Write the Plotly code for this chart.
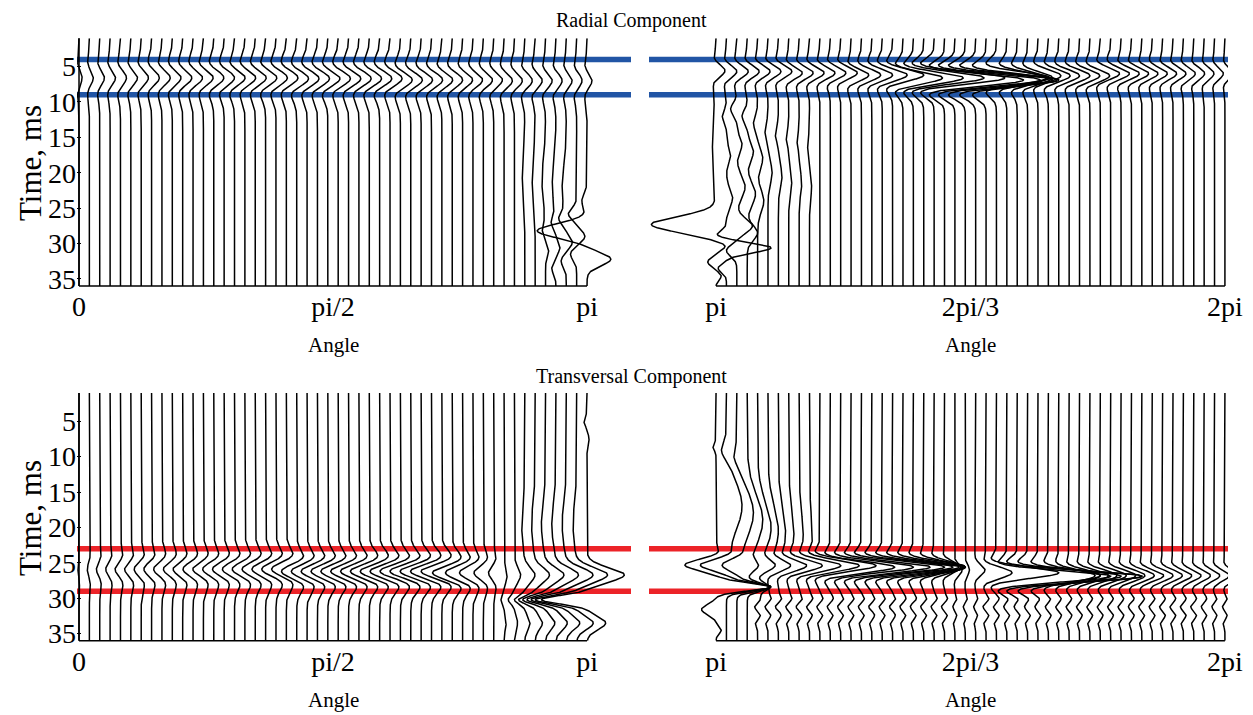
import numpy as np
import plotly.graph_objects as go

PAGE_W, PAGE_H = 1253, 715
OFF = 8                      # default page body margin
W, H = PAGE_W - OFF, PAGE_H - OFF
PI = np.pi

# ---------------- data ----------------
n_traces = 50
time_min, time_max = 1.0, 36.0
time_ticks = [5, 10, 15, 20, 25, 30, 35]
left_tick_vals = [0, PI / 2, PI]
left_tick_text = ["0", "pi/2", "pi"]
right_tick_vals = [PI, 1.5 * PI, 2 * PI]
right_tick_text = ["pi", "2pi/3", "2pi"]
radial_marker_times = [4, 9]
transversal_marker_times = [23, 29]

# main event amplitude per trace (in trace-spacing units) and apex time (ms)
radial_left_amp = [0.30, 0.38, 0.45, 0.52, 0.58, 0.64, 0.70, 0.75, 0.80, 0.84,
                   0.88, 0.91, 0.94, 0.97, 1.00, 1.02, 1.04, 1.06, 1.08, 1.10,
                   1.12, 1.14, 1.15, 1.16, 1.17, 1.18, 1.18, 1.18, 1.18, 1.17,
                   1.16, 1.14, 1.12, 1.10, 1.07, 1.04, 1.00, 0.96, 0.92, 0.88,
                   0.84, 0.80, 0.76, 0.72, 0.68, 0.64, 0.60, 0.56, 0.52, 0.48]
radial_left_time = [6.6] * 21 + [6.7] * 10 + [6.9] * 10 + [7.0] * 9

radial_right_amp = [0.9, 1.0, 1.1, 1.15, 1.2, 1.25, 1.3, 1.3, 1.35, 1.4,
                    1.45, 1.5, 1.6, 1.7, 1.85, 2.0, 2.4, 3.0, 3.8, 4.8,
                    5.8, 6.8, 7.6, 8.2, 8.4, 8.0, 6.8, 5.2, 3.8, 2.9,
                    2.4, 2.2, 2.1, 2.0, 2.0, 1.95, 1.9, 1.85, 1.8, 1.75,
                    1.65, 1.55, 1.45, 1.35, 1.25, 1.15, 1.05, 0.95, 0.85, 0.75]
radial_right_time = ([5.6] + [5.7] * 6 + [5.9] * 6 + [6.2] * 5 + [6.6] * 4 +
                     [6.9] * 5 + [6.6] * 4 + [6.3] * 6 + [6.0] * 13)

trans_left_amp = [-0.10, -0.20, -0.32, -0.42, -0.52, -0.60, -0.68, -0.74, -0.80, -0.86,
                  -0.92, -0.97, -1.02, -1.07, -1.12, -1.17, -1.22, -1.27, -1.32, -1.37,
                  -1.42, -1.47, -1.52, -1.57, -1.62, -1.67, -1.72, -1.77, -1.82, -1.87,
                  -1.92, -1.96, -2.00, -2.02, -2.02, -2.00, -1.90, -1.65, -1.30, -0.90,
                  -0.50, 0.0, 0.0, 0.0, 0.0, 0.0, 0.0, 0.0, 0.0, 0.0]
trans_left_time = [25.9] * 21 + [26.2] * 15 + [26.4] * 14

trans_right_amp = [-3.0, -2.6, -1.6, 0.8, 1.3, 1.8, 2.4, 3.0, 3.8, 4.6,
                   5.4, 6.2, 7.0, 7.6, 8.0, 7.8, 7.4, 6.8, 6.0, 5.0,
                   4.0, 2.8, 1.6, 0.7, 0.4, 0.9, 2.5, 6.0, 10.0, 12.0,
                   11.0, 8.0, 5.0, 3.5, 3.0, 2.8, 2.6, 2.5, 2.4, 2.3,
                   2.2, 2.1, 2.0, 1.9, 1.8, 1.7, 1.6, 1.5, 1.4, 1.3]
trans_right_time = ([25.3] * 3 + [25.4] * 8 + [25.6] * 12 + [26.0] * 3 +
                    [26.4] * 2 + [26.9] * 4 + [26.8] * 18)

trans_right_ring_amp = [0.0, 0.0, 0.0, 0.0, 0.3, 0.3, 0.3, 0.3, 0.3, 0.3,
                        0.3, 0.3, 0.3, 0.3, 0.3, 0.3, 0.3, 0.3, 0.3, 0.3,
                        0.3, 0.3, 0.3, 0.2, 0.2, 0.2, 0.3, 0.3, 0.3, 0.3,
                        0.3, 0.3, 0.3, 0.3, 0.3, 0.3, 0.3, 0.3, 0.3, 0.3,
                        0.3, 0.3, 0.3, 0.3, 0.3, 0.3, 0.3, 0.28, 0.26, 0.24]
trans_right_ring_times = [30.0, 31.2, 32.4, 33.6]
trans_right_ring_gain = [1.0, -1.0, 0.9, -0.7]

# extra local arrivals: (trace, time ms, amplitude, width ms, side-lobe factor)
radial_left_extra = [
    (43, 20.0, -0.25, 3.0, 0), (44, 20.5, -0.3, 3.0, 0), (45, 21.0, -0.35, 3.0, 0),
    (46, 21.5, -0.35, 3.0, 0), (47, 22.0, -0.4, 3.0, 0),
    (45, 28.0, -0.3, 0.8, 0), (45, 31.0, 0.3, 0.8, 0),
    (46, 27.0, -0.4, 0.8, 0), (46, 30.5, 0.4, 0.8, 0), (46, 33.5, -0.4, 0.8, 0),
    (47, 26.5, -0.6, 0.8, 0), (47, 29.8, 0.6, 0.8, 0), (47, 32.5, -0.5, 0.8, 0),
    (48, 25.8, -0.8, 0.8, 0), (48, 29.0, 0.8, 0.8, 0), (48, 31.5, -0.6, 0.8, 0),
    (49, 24.0, -0.5, 1.0, 0), (49, 28.2, -4.8, 1.0, 0), (49, 32.2, 2.3, 0.9, 0),
]
radial_right_extra = [
    (0, 16.0, -0.35, 5.0, 0), (0, 27.3, -6.2, 1.1, 0), (0, 30.3, 1.0, 0.6, 0),
    (0, 32.6, -0.8, 0.6, 0), (0, 34.6, 0.5, 0.5, 0),
    (1, 12.0, -0.4, 0.8, 0), (1, 17.5, 0.4, 1.0, 0), (1, 23.5, 0.6, 1.2, 0),
    (1, 28.8, -1.0, 0.6, 0), (1, 30.6, 4.3, 0.7, 0), (1, 33.5, -0.8, 0.6, 0),
    (2, 11.0, -0.6, 0.8, 0), (2, 16.0, 0.5, 1.0, 0), (2, 22.0, 0.8, 1.5, 0),
    (2, 27.5, 1.5, 1.0, 0), (2, 31.0, -1.0, 0.8, 0),
    (3, 12.0, -0.5, 0.8, 0), (3, 17.0, 0.6, 1.2, 0), (3, 23.0, 0.8, 1.5, 0), (3, 28.5, 1.0, 1.0, 0),
    (4, 13.0, -0.4, 1.0, 0), (4, 18.0, 0.5, 1.2, 0), (4, 24.0, 0.6, 1.5, 0),
    (5, 14.0, -0.3, 1.0, 0), (5, 20.0, 0.4, 1.5, 0),
    (6, 14.5, -0.3, 1.0, 0), (6, 20.5, 0.35, 1.5, 0),
    (7, 15.0, -0.25, 1.0, 0), (7, 21.0, 0.3, 1.5, 0),
    (8, 15.5, -0.2, 1.0, 0), (8, 21.5, 0.25, 1.5, 0),
    (9, 16.0, -0.2, 1.0, 0), (9, 22.0, 0.2, 1.5, 0),
]
trans_left_late_traces = [41, 42, 43, 44, 45, 46, 47, 48, 49]
trans_left_late_pos1 = [0.3, 0.6, 1.0, 1.4, 1.8, 2.2, 2.6, 3.0, 3.6]
trans_left_late_neg = [-0.3, -0.6, -1.0, -1.6, -2.2, -2.8, -3.4, -4.0, -4.4]
trans_left_late_pos2 = [0.2, 0.3, 0.5, 0.7, 0.9, 1.1, 1.3, 1.6, 1.8]
trans_left_extra = [
    (49, 5.0, -0.3, 0.6, 0), (49, 7.5, 0.2, 0.6, 0),
    (43, 19.5, -0.3, 3.0, 0), (44, 19.5, -0.35, 3.0, 0), (45, 19.5, -0.4, 3.0, 0),
    (46, 19.5, -0.4, 3.0, 0), (47, 19.5, -0.4, 3.0, 0), (48, 19.5, -0.35, 3.0, 0),
]
trans_right_extra = [
    (0, 8.6, -0.3, 0.5, 0), (0, 28.4, 5.2, 0.55, 0), (0, 31.6, -1.4, 0.7, 0), (0, 34.5, 0.5, 0.5, 0),
    (1, 9.2, -0.6, 1.2, 0), (1, 17.0, 1.5, 3.5, 0), (1, 28.4, 4.2, 0.55, 0),
    (2, 10.0, -0.4, 1.2, 0), (2, 18.0, 1.6, 3.5, 0), (2, 28.4, 3.2, 0.55, 0),
    (3, 19.0, 1.5, 3.5, 0), (3, 28.4, 2.2, 0.55, 0),
    (4, 20.0, 1.3, 3.5, 0), (4, 28.4, 1.2, 0.55, 0),
    (5, 20.5, 1.0, 3.5, 0), (6, 21.0, 0.7, 3.5, 0), (7, 21.0, 0.5, 3.5, 0),
    (8, 21.5, 0.4, 3.5, 0), (9, 22.0, 0.3, 3.5, 0),
]

# ---------------- build wiggles ----------------
SPACING = PI / (n_traces - 1)
t = np.linspace(time_min, time_max, 1401)


def wavelet(t0, s, k):
    tau = (t - t0) / s
    return (1.0 - k * tau ** 2) * np.exp(-0.5 * tau ** 2)


for j, a1, a2, a3 in zip(trans_left_late_traces, trans_left_late_pos1,
                         trans_left_late_neg, trans_left_late_pos2):
    trans_left_extra += [(j, 26.7, a1, 1.0, 0), (j, 30.2, a2, 0.6, 0), (j, 33.5, a3, 0.9, 0)]

for j, a in enumerate(trans_right_ring_amp):
    for tr, g in zip(trans_right_ring_times, trans_right_ring_gain):
        if a:
            trans_right_extra.append((j, tr, a * g, 0.42, 0))


def build(angle0, amps, times, s, k, extras):
    xs, ys = [], []
    for i in range(n_traces):
        x0 = angle0 + i * SPACING
        d = amps[i] * wavelet(times[i], s, k)
        for (j, t0, a, sj, kj) in extras:
            if j == i:
                d = d + a * wavelet(t0, sj, kj)
        xs.extend((x0 + SPACING * d).tolist())
        ys.extend(t.tolist())
        xs.append(None)
        ys.append(None)
    return xs, ys


panels = [
    build(0.0, radial_left_amp, radial_left_time, 1.4, 1.0, radial_left_extra),
    build(PI, radial_right_amp, radial_right_time, 1.1, 0.6, radial_right_extra),
    build(0.0, trans_left_amp, trans_left_time, 1.3, 1.0, trans_left_extra),
    build(PI, trans_right_amp, trans_right_time, 1.0, 0.4, trans_right_extra),
]

# ---------------- figure ----------------
FONT = "Liberation Serif"
fig = go.Figure()
axes_ids = [("x", "y"), ("x2", "y2"), ("x3", "y3"), ("x4", "y4")]
for (xs, ys), (xa, ya) in zip(panels, axes_ids):
    fig.add_trace(go.Scatter(x=xs, y=ys, mode="lines", xaxis=xa, yaxis=ya,
                             line=dict(color="black", width=1.5), hoverinfo="skip",
                             showlegend=False))


def xd(px):
    return (px - OFF) / W


def yd(px):
    return 1 - (px - OFF) / H


left_dom = [xd(77), xd(631)]
right_dom = [xd(649), xd(1228)]
top_dom = [yd(286), yd(38.2)]
bot_dom = [yd(640.7), yd(392.9)]
left_range = [-0.0124, PI + 0.272]
right_range = [PI - 0.414, 2 * PI + 0.019]

tickfont = dict(family=FONT, size=28, color="black")
common_x = dict(showgrid=False, zeroline=False, showline=False, ticks="",
                tickfont=tickfont, ticklabelstandoff=1, automargin=False)
common_y = dict(showgrid=False, zeroline=False, showline=False, automargin=False,
                range=[time_max, time_min], tickfont=tickfont)

layout_axes = dict(
    xaxis=dict(domain=left_dom, range=left_range, tickvals=left_tick_vals,
               ticktext=left_tick_text, anchor="y", **common_x),
    xaxis2=dict(domain=right_dom, range=right_range, tickvals=right_tick_vals,
                ticktext=right_tick_text, anchor="y2", **common_x),
    xaxis3=dict(domain=left_dom, range=left_range, tickvals=left_tick_vals,
                ticktext=left_tick_text, anchor="y3", **common_x),
    xaxis4=dict(domain=right_dom, range=right_range, tickvals=right_tick_vals,
                ticktext=right_tick_text, anchor="y4", **common_x),
    yaxis=dict(domain=top_dom, anchor="x", tickvals=time_ticks, ticks="inside",
               ticklen=4, tickcolor="black", **common_y),
    yaxis2=dict(domain=top_dom, anchor="x2", showticklabels=False, ticks="", **common_y),
    yaxis3=dict(domain=bot_dom, anchor="x3", tickvals=time_ticks, ticks="inside",
                ticklen=4, tickcolor="black", **common_y),
    yaxis4=dict(domain=bot_dom, anchor="x4", showticklabels=False, ticks="", **common_y),
)

shapes = []
blue, red = "#2155a5", "#ec2328"
for (xa, ya), marks, col in [(("x", "y"), radial_marker_times, blue),
                             (("x2", "y2"), radial_marker_times, blue),
                             (("x3", "y3"), transversal_marker_times, red),
                             (("x4", "y4"), transversal_marker_times, red)]:
    for m in marks:
        shapes.append(dict(type="line", xref=xa + " domain", x0=0, x1=1, yref=ya,
                           y0=m, y1=m, line=dict(color=col, width=5.5), layer="below"))
for xa, ya, a0, a1 in [("x", "y", 0, PI), ("x2", "y2", PI, 2 * PI),
                       ("x3", "y3", 0, PI), ("x4", "y4", PI, 2 * PI)]:
    shapes.append(dict(type="line", xref=xa, x0=a0, x1=a1, yref=ya + " domain",
                       y0=0, y1=0, line=dict(color="black", width=1.5)))
for xa, ya in [("x", "y"), ("x3", "y3")]:
    shapes.append(dict(type="line", xref=xa, x0=0, x1=0, yref=ya + " domain",
                       y0=0, y1=1, line=dict(color="black", width=1.5)))

annotations = [
    dict(text="Radial Component", x=xd(631), y=yd(21), xref="paper", yref="paper",
         xanchor="center", yanchor="middle", showarrow=False,
         font=dict(family=FONT, size=20, color="black")),
    dict(text="Transversal Component", x=xd(631), y=yd(376), xref="paper", yref="paper",
         xanchor="center", yanchor="middle", showarrow=False,
         font=dict(family=FONT, size=20, color="black")),
]
for xa, cx, cy in [("x", PI / 2, 345), ("x2", 1.5 * PI, 345), ("x3", PI / 2, 700), ("x4", 1.5 * PI, 700)]:
    annotations.append(dict(text="Angle", x=cx, xref=xa, y=yd(cy), yref="paper",
                            xanchor="center", yanchor="middle", showarrow=False,
                            font=dict(family=FONT, size=21, color="black")))
for cy in [163, 518]:
    annotations.append(dict(text="Time, ms", x=xd(30), y=yd(cy), xref="paper", yref="paper",
                            xanchor="center", yanchor="middle", textangle=-90, showarrow=False,
                            font=dict(family=FONT, size=31, color="black")))

fig.update_layout(width=W, height=H, margin=dict(l=0, r=0, t=0, b=0),
                  paper_bgcolor="white", plot_bgcolor="white",
                  shapes=shapes, annotations=annotations, **layout_axes)
fig.write_html("out.html")
